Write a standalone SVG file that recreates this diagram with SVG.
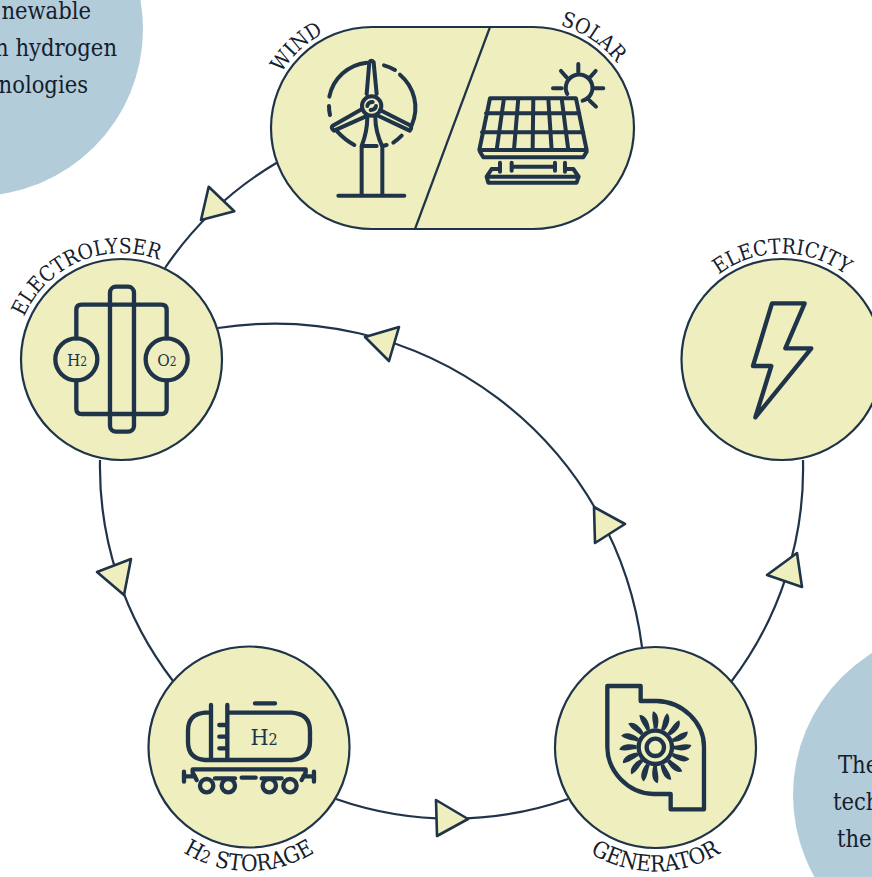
<svg xmlns="http://www.w3.org/2000/svg" width="872" height="877" viewBox="0 0 872 877">
<style>
text{font-family:"DejaVu Serif","Liberation Serif",serif;font-stretch:condensed;fill:#14202c}
.body{font-size:23.5px}
.lab{font-size:21px}
.labb{font-size:22.5px}
.node{fill:#eeeebf;stroke:#1f3349;stroke-width:2.2}
.conn{fill:none;stroke:#1f3349;stroke-width:2.2}
.arrow{fill:#eeeebf;stroke:#1f3349;stroke-width:2.6;stroke-linejoin:round}
.ic{fill:none;stroke:#1f3349;stroke-width:12;stroke-linecap:round;stroke-linejoin:round}
.th{stroke-width:13}
.sym{fill:#1f3349}
.guide{fill:none}
</style>
<defs>
<path id="blade" d="M-5,-56C-5,-72 -13,-88 -7,-108C7,-104 14,-84 6,-56Z"/>
<path id="pLy" class="guide" d="M21.9,395.8A106,106 0 0 1 216.8,313"/>
<path id="pEc" class="guide" d="M690.2,306.5A106,106 0 0 1 873.8,306.5"/>
<path id="pWi" class="guide" d="M267.6,109.6A106,106 0 0 1 361,22.6"/>
<path id="pSo" class="guide" d="M523.8,22.4A106,106 0 0 1 633.8,95.2"/>
<path id="pH2" class="guide" d="M141.6,809A124,124 0 0 0 356.4,809"/>
<path id="pGe" class="guide" d="M548.1,809.5A124,124 0 0 0 762.9,809.5"/>
</defs>
<circle id="note-left" cx="-24" cy="29" r="167" fill="#b3ccda"/>
<circle id="note-right" cx="960" cy="795" r="167" fill="#b3ccda"/>
<g id="note-left-text" text-anchor="end">
<text class="body" x="91" y="19">newable</text>
<text class="body" x="117" y="56">n hydrogen</text>
<text class="body" x="88" y="93">nologies</text>
</g>
<g id="note-right-text">
<text class="body" x="838" y="773">The</text>
<text class="body" x="833" y="810">tech</text>
<text class="body" x="837" y="847">the</text>
</g>
<g id="connectors">
<path class="conn" d="M278,162A351.5,351.5 0 0 0 165,268"/>
<path class="conn" d="M100,460A351.5,351.5 0 0 0 173,681"/>
<path class="conn" d="M336,799A351.5,351.5 0 0 0 568,799"/>
<path class="conn" d="M731,682A351.5,351.5 0 0 0 803,460"/>
<path class="conn" d="M642,647A370,370 0 0 0 218,328"/>
<polygon class="arrow" points="208.7,186.7 234.3,211.3 201,220"/>
<polygon class="arrow" points="399,327 365,337 389,361"/>
<polygon class="arrow" points="594,507 625,524 595,543"/>
<polygon class="arrow" points="797,553 802,587 767,575"/>
<polygon class="arrow" points="436,800 468,819 437,836"/>
<polygon class="arrow" points="131,559 97,572 124,595"/>
</g>
<g id="wind-solar">
<rect class="node" x="271" y="27" width="363" height="202" rx="101"/>
<line class="conn" x1="490" y1="27" x2="415" y2="229"/>
<text class="lab"><textPath href="#pWi" startOffset="50%" text-anchor="middle">WIND</textPath></text>
<text class="lab"><textPath href="#pSo" startOffset="50%" text-anchor="middle">SOLAR</textPath></text>
<g transform="translate(260,0) scale(.3333)">
<path class="ic" d="M320,282L328,187Q334,178 341,187L350,282"/>
<path class="ic" d="M305,328L217,378Q212,384 222,392L316,350"/>
<path class="ic" d="M360,330L450,376Q458,384 449,392L356,348"/>
<circle class="ic" cx="335" cy="318" r="29"/>
<path class="ic" d="M322,318Q324,306 338,306M348,318Q346,330 332,330" stroke-width="7"/>
<path class="ic" d="M320,188A128,128 0 0 0 208,290M207,318Q207,332 210,345M232,395Q255,420 283,435M372,196Q388,200 405,210M420,224A130,130 0 0 1 455,376M425,407Q412,420 400,428M380,435L368,438"/>
<path class="ic" d="M322,352Q322,395 305,438V585M346,352Q346,395 367,440V585M305,438H350M235,587H433"/>
<path class="ic" d="M690,295H948L980,450H658ZM660,455L670,472H970L980,455M678,340H958M666,397H970M732,295L710,450M775,295L762,450M820,295L818,450M865,295L875,450M905,295L925,450"/>
<path class="ic" d="M695,507H720M720,488V515M915,488V515M915,507H940L956,530L950,548H685L680,530L695,507M680,530H955M755,488V512M885,488V512M755,500H885"/>
<path class="ic" d="M922,282A40,40 0 1 1 968,302M955,192V216M903,213L920,232M1007,213L990,232M879,265H905M1003,265H1030M990,303L1008,320"/>
</g>
</g>
<g id="electrolyser">
<circle class="node" cx="121.5" cy="359.5" r="100.5"/>
<text class="lab"><textPath href="#pLy" startOffset="50%" text-anchor="middle">ELECTROLYSER</textPath></text>
<g transform="translate(0,230) scale(.3333)">
<path class="ic th" d="M229,325V240Q229,224 245,224H484Q500,224 500,240V325M229,452V536Q229,552 245,552H484Q500,552 500,536V452"/>
<rect class="ic th" x="330" y="170" width="72" height="435" rx="18"/>
<circle class="ic th" cx="229" cy="388" r="63"/>
<circle class="ic th" cx="500" cy="388" r="63"/>
</g>
<text x="77" y="366" text-anchor="middle" font-size="17" style="fill:#1f3349">H<tspan font-size="12">2</tspan></text>
<text x="167" y="366" text-anchor="middle" font-size="17" style="fill:#1f3349">O<tspan font-size="12">2</tspan></text>
</g>
<g id="electricity">
<circle class="node" cx="782" cy="359.5" r="100.5"/>
<text class="lab"><textPath href="#pEc" startOffset="50%" text-anchor="middle">ELECTRICITY</textPath></text>
<g transform="translate(672,230) scale(.3333)">
<path class="ic th" d="M300,220H398L340,355H418L250,562L298,408H243Z"/>
</g>
</g>
<g id="h2-storage">
<circle class="node" cx="249" cy="747" r="100.5"/>
<text class="labb"><textPath href="#pH2" startOffset="50%" text-anchor="middle">H<tspan font-size="17">2</tspan> STORAGE</textPath></text>
<g transform="translate(140,640) scale(.3333)">
<path class="ic th" d="M213,218H195Q144,222 144,272V306Q144,356 195,360H455Q510,356 510,306V272Q510,222 455,218H262M213,195V360M262,195V360M238,255H258M238,290H258M238,325H258M345,190H405"/>
<path class="ic th" d="M158,388H497V398L485,420M158,388V398L170,420M132,395V425M522,395V425M132,409H165M490,409H522M305,413H347M225,415H285M365,415H425"/>
<circle class="ic th" cx="200" cy="437" r="20"/>
<circle class="ic th" cx="265" cy="437" r="20"/>
<circle class="ic th" cx="388" cy="437" r="20"/>
<circle class="ic th" cx="450" cy="437" r="20"/>
</g>
<text x="264" y="745" text-anchor="middle" font-size="23" style="fill:#1f3349">H<tspan font-size="16">2</tspan></text>
</g>
<g id="generator">
<circle class="node" cx="655.5" cy="747.5" r="100.5"/>
<text class="labb"><textPath href="#pGe" startOffset="50%" text-anchor="middle">GENERATOR</textPath></text>
<g transform="translate(550,640) scale(.3333)">
<path class="ic th" d="M172,138H272V183H320C400,185 462,250 462,320V508H362V462H310C235,460 172,395 172,320Z"/>
<circle class="ic th" cx="316" cy="322" r="26"/>
<circle class="ic th" cx="316" cy="322" r="50"/>
<g class="sym" transform="translate(316,322)">
<use href="#blade"/><use href="#blade" transform="rotate(22.5)"/><use href="#blade" transform="rotate(45)"/><use href="#blade" transform="rotate(67.5)"/><use href="#blade" transform="rotate(90)"/><use href="#blade" transform="rotate(112.5)"/><use href="#blade" transform="rotate(135)"/><use href="#blade" transform="rotate(157.5)"/><use href="#blade" transform="rotate(180)"/><use href="#blade" transform="rotate(202.5)"/><use href="#blade" transform="rotate(225)"/><use href="#blade" transform="rotate(247.5)"/><use href="#blade" transform="rotate(270)"/><use href="#blade" transform="rotate(292.5)"/><use href="#blade" transform="rotate(315)"/><use href="#blade" transform="rotate(337.5)"/>
</g>
</g>
</g>
</svg>
